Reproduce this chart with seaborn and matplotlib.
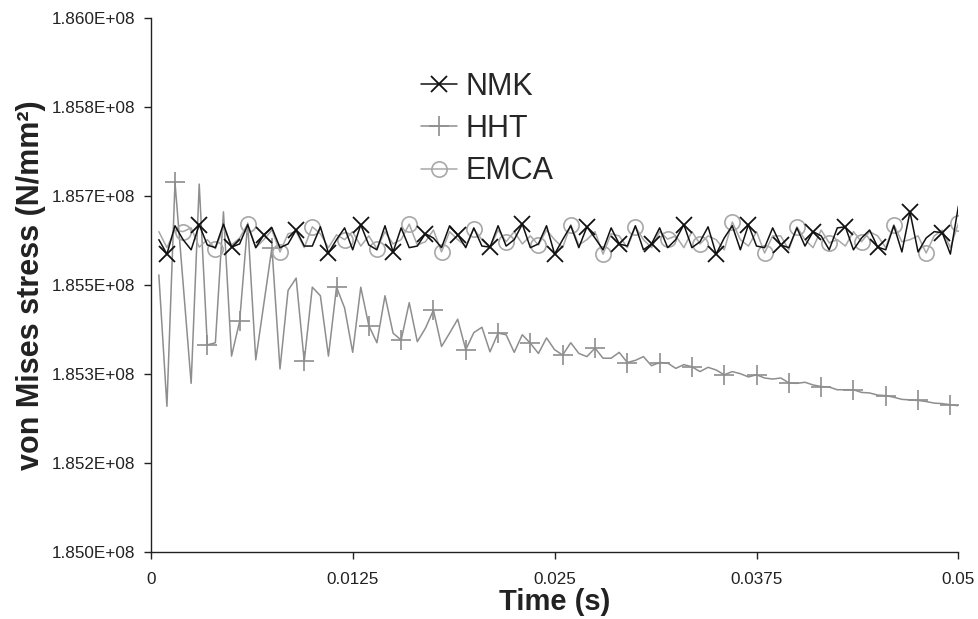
import numpy as np
import pandas as pd
import matplotlib
matplotlib.use("Agg")
import matplotlib.pyplot as plt
import seaborn as sns
from matplotlib.ticker import FuncFormatter

# time steps (s), dt = 0.0005
time = np.round(np.arange(1, 101) * 0.0005, 4)

# von Mises stress in units of 1E+08 N/mm2
nmk = [1.85585, 1.85558, 1.85611, 1.85585, 1.85566, 1.85613, 1.85575, 1.85570, 1.85614, 1.85571,
       1.85577, 1.85613, 1.85570, 1.85594, 1.85607, 1.85570, 1.85577, 1.85603, 1.85573, 1.85573,
       1.85609, 1.85560, 1.85585, 1.85607, 1.85566, 1.85613, 1.85575, 1.85566, 1.85611, 1.85562,
       1.85607, 1.85570, 1.85573, 1.85596, 1.85588, 1.85570, 1.85611, 1.85594, 1.85570, 1.85607,
       1.85573, 1.85571, 1.85611, 1.85573, 1.85585, 1.85614, 1.85570, 1.85577, 1.85611, 1.85558,
       1.85585, 1.85611, 1.85570, 1.85609, 1.85588, 1.85566, 1.85607, 1.85577, 1.85573, 1.85611,
       1.85566, 1.85577, 1.85607, 1.85570, 1.85585, 1.85613, 1.85570, 1.85581, 1.85609, 1.85558,
       1.85588, 1.85611, 1.85566, 1.85613, 1.85573, 1.85570, 1.85607, 1.85575, 1.85570, 1.85607,
       1.85573, 1.85600, 1.85592, 1.85566, 1.85607, 1.85609, 1.85566, 1.85588, 1.85603, 1.85571,
       1.85566, 1.85611, 1.85562, 1.85637, 1.85562, 1.85588, 1.85600, 1.85598, 1.85558, 1.85648]

hht = [1.85519, 1.85273, 1.85692, 1.85504, 1.85316, 1.85689, 1.85388, 1.85392, 1.85637, 1.85367,
       1.85432, 1.85616, 1.85360, 1.85465, 1.85570, 1.85343, 1.85490, 1.85513, 1.85357, 1.85496,
       1.85480, 1.85367, 1.85496, 1.85457, 1.85374, 1.85496, 1.85424, 1.85392, 1.85480, 1.85410,
       1.85397, 1.85467, 1.85394, 1.85419, 1.85453, 1.85385, 1.85410, 1.85436, 1.85379, 1.85411,
       1.85421, 1.85375, 1.85410, 1.85407, 1.85374, 1.85407, 1.85391, 1.85372, 1.85401, 1.85379,
       1.85369, 1.85392, 1.85372, 1.85366, 1.85382, 1.85363, 1.85363, 1.85374, 1.85355, 1.85359,
       1.85366, 1.85349, 1.85355, 1.85354, 1.85344, 1.85351, 1.85347, 1.85338, 1.85346, 1.85341,
       1.85332, 1.85338, 1.85334, 1.85328, 1.85332, 1.85326, 1.85324, 1.85326, 1.85317, 1.85316,
       1.85318, 1.85313, 1.85310, 1.85309, 1.85304, 1.85304, 1.85304, 1.85299, 1.85298, 1.85294,
       1.85293, 1.85290, 1.85286, 1.85285, 1.85284, 1.85282, 1.85279, 1.85278, 1.85276, 1.85274]

emca = [1.85600, 1.85570, 1.85603, 1.85600, 1.85607, 1.85571, 1.85585, 1.85568, 1.85607, 1.85575,
        1.85588, 1.85614, 1.85570, 1.85585, 1.85603, 1.85562, 1.85596, 1.85600, 1.85570, 1.85609,
        1.85596, 1.85570, 1.85594, 1.85585, 1.85600, 1.85573, 1.85592, 1.85568, 1.85600, 1.85577,
        1.85585, 1.85614, 1.85575, 1.85581, 1.85603, 1.85562, 1.85600, 1.85585, 1.85573, 1.85605,
        1.85585, 1.85570, 1.85603, 1.85581, 1.85600, 1.85577, 1.85592, 1.85575, 1.85603, 1.85585,
        1.85570, 1.85613, 1.85575, 1.85585, 1.85600, 1.85558, 1.85596, 1.85592, 1.85570, 1.85609,
        1.85585, 1.85570, 1.85600, 1.85586, 1.85592, 1.85570, 1.85600, 1.85577, 1.85592, 1.85585,
        1.85566, 1.85618, 1.85585, 1.85573, 1.85600, 1.85560, 1.85592, 1.85592, 1.85566, 1.85609,
        1.85585, 1.85570, 1.85603, 1.85579, 1.85585, 1.85573, 1.85600, 1.85581, 1.85600, 1.85592,
        1.85570, 1.85613, 1.85581, 1.85585, 1.85592, 1.85560, 1.85592, 1.85603, 1.85570, 1.85616]

x_ticks = [0, 0.0125, 0.025, 0.0375, 0.05]

df = pd.DataFrame({"time": time,
                   "NMK": np.array(nmk) * 1e8,
                   "HHT": np.array(hht) * 1e8,
                   "EMCA": np.array(emca) * 1e8})

sns.set_theme(style="white")
plt.rcParams['font.family'] = ['Liberation Sans', 'DejaVu Sans']

fig = plt.figure(figsize=(9.79, 6.19), dpi=100)
ax = fig.add_axes([0.154, 0.108, 0.825, 0.863])

nmk_col = "#111111"
hht_col = "#8e8e8e"
emca_col = "#a8a8a8"

sns.lineplot(data=df, x="time", y="NMK", ax=ax, color=nmk_col, lw=1.1,
             marker="x", markersize=11, markeredgewidth=1.3, markeredgecolor=nmk_col,
             markevery=(1, 4), label="NMK", zorder=5)
sns.lineplot(data=df, x="time", y="HHT", ax=ax, color=hht_col, lw=1.1,
             marker="+", markersize=14, markeredgewidth=1.2, markeredgecolor=hht_col,
             markevery=(2, 4), label="HHT", zorder=3)
sns.lineplot(data=df, x="time", y="EMCA", ax=ax, color=emca_col, lw=1.1,
             marker="o", markersize=11, markerfacecolor="none", markeredgecolor=emca_col,
             markeredgewidth=1.2, markevery=(3, 4), label="EMCA", zorder=4)

ax.set_xlim(0, 0.05)
ax.set_ylim(1.85e8, 1.86e8)
ax.set_xticks(x_ticks)
ax.set_yticks(np.linspace(1.85e8, 1.86e8, 7))
ax.xaxis.set_major_formatter(FuncFormatter(lambda v, p: f"{v:g}"))
ax.yaxis.set_major_formatter(FuncFormatter(lambda v, p: f"{v:.3E}"))
ax.tick_params(axis="both", labelsize=12.3, colors="#222222", length=5, width=1,
               direction="out", left=True, bottom=True, pad=6)
ax.tick_params(axis="x", pad=9)

for s in ["top", "right"]:
    ax.spines[s].set_visible(False)
for s in ["left", "bottom"]:
    ax.spines[s].set_color("#222222")
    ax.spines[s].set_linewidth(1)

ax.set_xlabel("Time (s)", fontsize=21, fontweight="bold", color="#222222", labelpad=1)
ax.set_ylabel("von Mises stress (N/mm²)", fontsize=22, fontweight="bold", color="#222222", labelpad=4)

leg = ax.legend(loc="upper left", bbox_to_anchor=(0.32, 0.922), frameon=False,
                fontsize=22, handlelength=1.15, handletextpad=0.3, labelspacing=0.4,
                numpoints=1, borderaxespad=0)

fig.savefig("out.png", dpi=100, facecolor="white")
